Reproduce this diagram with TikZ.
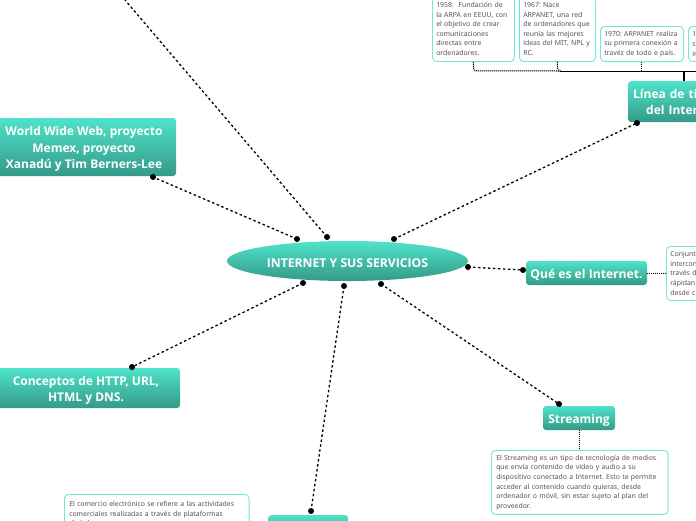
\documentclass[tikz,border=0pt]{standalone}
\usepackage{fontspec}
\setmainfont{Noto Sans}
\newfontfamily\topicfont{Open Sans}
\newcommand{\lift}{\rule{0pt}{13.5pt}}
\definecolor{mintlight}{HTML}{4FE3C9}
\definecolor{mintdark}{HTML}{349A89}
\definecolor{mintline}{HTML}{6FE9D8}
\definecolor{notetext}{HTML}{555555}
\tikzset{
    topic/.style={rectangle,rounded corners=3pt,top color=mintlight,bottom color=mintdark,inner sep=0pt,
        text=white,align=center,font=\topicfont\bfseries\fontsize{12}{16.4}\selectfont},
    rootnode/.style={ellipse,top color=mintlight,bottom color=mintdark,inner sep=0pt,
        minimum width=241pt,minimum height=40pt,text=white,font=\topicfont\bfseries\fontsize{12.2}{14}\selectfont},
    note/.style={rectangle,rounded corners=4pt,draw=mintline,line width=0.9pt,fill=white,anchor=north west,
        inner xsep=3.8pt,inner ysep=4.5pt,align=left,text=notetext,font=\frenchspacing\fontsize{6.9}{9.6}\selectfont},
    link/.style={line width=1.3pt,dash pattern=on 2.5pt off 2.5pt},
    fine/.style={line width=1pt,dash pattern=on 1.2pt off 0.8pt},
}
\usetikzlibrary{shapes.geometric}
\begin{document}
\begin{tikzpicture}[x=1pt,y=-1pt]
    \path[use as bounding box,clip] (0,0) rectangle (696,520);
    \fill[white] (0,0) rectangle (696,520);

    \coordinate (r1) at (327,237);
    \coordinate (r2) at (297,239);
    \coordinate (r3) at (394,239);
    \coordinate (r4) at (468,267);
    \coordinate (r5) at (381,284);
    \coordinate (r6) at (344,286);
    \coordinate (r7) at (303,283);
    \coordinate (e1) at (125,0);
    \coordinate (e2) at (153,177);
    \coordinate (e3) at (637,123);
    \coordinate (e4) at (523,270);
    \coordinate (e5) at (559,404);
    \coordinate (e6) at (311,511);
    \coordinate (e7) at (132,367);

    % notes
    \node[note,text width=74.4pt,minimum height=65pt] (n58) at (432,-4) {1958:~ Fundación de\\la ARPA en EEUU, con\\el objetivo de crear\\comunicaciones\\directas entre\\ordenadores.};
    \node[note,text width=68.4pt,minimum height=65pt] (n67) at (519,-4) {1967: Nace\\ARPANET, una red\\de ordenadores que\\reunía las mejores\\ideas del MIT, NPL y\\RC.};
    \node[note,text width=75.4pt,minimum height=35pt] (n70) at (600,26) {1970: ARPANET realiza\\su primera conexión a\\travéz de todo e país.};
    \node[note,text width=75.4pt,minimum height=35pt] (n7x) at (688,26) {1\\s\\ir};
    \node[note,text width=61.4pt,minimum height=54pt] (nque) at (666,246) {Conjunt\\intercon\\través d\\rápidan\\desde c};
    \node[note,text width=167pt,inner xsep=4.8pt,minimum height=63pt] (nstr) at (491,450) {El Streaming es un tipo de tecnología de medios\\que envía contenido de video y audio a su\\dispositivo conectado a Internet. Esto te permite\\acceder al contenido cuando quieras, desde\\ordenador o móvil, sin estar sujeto al plan del\\proveedor.};
    \node[note,text width=175pt,inner xsep=4.8pt,minimum height=40pt] (ncom) at (64,494) {El comercio electrónico se refiere a las actividades\\comerciales realizadas a través de plataformas\\digitales.};

    % topics
    \node[rootnode] (root) at (347.5,261) {\lift INTERNET Y SUS SERVICIOS};
    \node[topic,minimum width=184pt,minimum height=58pt] (www) at (84,147) {\lift World Wide Web, proyecto\\Memex, proyecto\\Xanadú y Tim Berners-Lee};
    \node[topic,minimum width=188pt,minimum height=40pt] (http) at (86,388) {\lift Conceptos de HTTP, URL,\\HTML y DNS.};
    \node[topic,text width=130pt,minimum height=41pt,anchor=north west,align=left,inner xsep=5pt] (lin) at (628,81) {Línea de ti\\\hspace*{13pt}del Inter};
    \node[topic,minimum width=121pt,minimum height=24pt,font=\topicfont\bfseries\fontsize{12.15}{16.4}\selectfont] (que) at (586.5,273) {\lift Qué es el Internet.};
    \node[topic,minimum width=72pt,minimum height=24pt] (str) at (579,418) {\lift Streaming};
    \node[topic,minimum width=80pt,minimum height=20pt,anchor=north west] (com) at (268,515) {};

    % links to the root
    \foreach \a/\b in {r1/e1,r2/e2,r3/e3,r4/e4,r5/e5,r6/e6,r7/e7}
        \draw[link] (\a) -- (\b);
    \foreach \p in {r1,r2,r3,r4,r5,r6,r7,e2,e3,e4,e5,e6,e7}
        \fill (\p) circle (3pt);

    % time line
    \draw[line width=1.2pt] (684,81) -- (684,71);
    \draw[line width=1pt] (560,71) -- (696,71);
    \draw[fine,rounded corners=3pt] (n58.south) -- ++(0,9) -- (560,71);
    \draw[fine,rounded corners=3pt] (n67.south) -- ++(0,9) -- (560,71);
    \draw[fine] (n70.south) -- ++(0,10);

    % notes of the topics
    \draw[fine] (que.east) -- (nque.west |- que.east);
    \draw[fine] (str.south) -- (str.south |- nstr.north);
\end{tikzpicture}
\end{document}
